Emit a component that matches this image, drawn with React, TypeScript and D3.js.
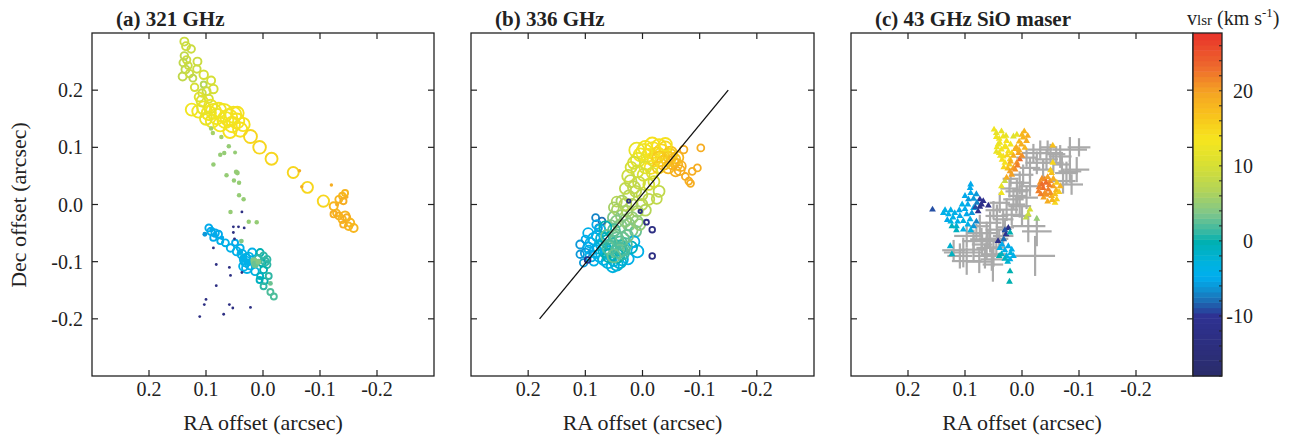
import React from 'react';
import * as d3 from 'd3';

// [RA offset, Dec offset, vlsr, flux]
const ringsA: number[][] = [
  [0.138, 0.285, 9, 16], [0.135, 0.277, 9, 16], [0.126, 0.272, 9, 14], [0.138, 0.26, 8, 14],
  [0.134, 0.253, 9, 14], [0.14, 0.248, 8, 14], [0.115, 0.25, 9, 16], [0.136, 0.236, 8, 16],
  [0.141, 0.224, 8, 16], [0.129, 0.229, 9, 14], [0.116, 0.237, 9, 14], [0.123, 0.221, 8, 12],
  [0.104, 0.227, 10, 18], [0.104, 0.21, 7, 9], [0.091, 0.217, 10, 16], [0.099, 0.198, 9, 16],
  [0.087, 0.202, 10, 18], [0.107, 0.195, 9, 14], [0.131, 0.243, 9, 12], [0.12, 0.205, 10, 14],
  [0.112, 0.188, 11, 20], [0.095, 0.185, 10, 16],
  [0.125, 0.166, 13, 36], [0.113, 0.163, 13, 40], [0.107, 0.181, 11, 30], [0.104, 0.169, 12, 42],
  [0.095, 0.16, 13, 50], [0.087, 0.163, 13, 56], [0.081, 0.154, 13, 60], [0.069, 0.16, 13, 81],
  [0.06, 0.152, 14, 70], [0.052, 0.157, 13, 64], [0.054, 0.14, 14, 60], [0.046, 0.146, 14, 56],
  [0.04, 0.131, 14, 50], [0.089, 0.146, 13, 42], [0.075, 0.14, 13, 48], [0.066, 0.148, 13, 64],
  [0.1, 0.15, 12, 36], [0.045, 0.16, 14, 40], [0.058, 0.128, 14, 44], [0.078, 0.165, 13, 56],
  [0.092, 0.172, 12, 42], [0.035, 0.14, 14, 44],
  [0.022, 0.119, 15, 42], [0.006, 0.1, 15, 40], [-0.015, 0.08, 15, 36], [-0.053, 0.056, 15, 30],
  [-0.078, 0.03, 15, 30], [-0.106, 0.006, 15, 32],
  [-0.139, 0.015, 18, 10], [-0.144, 0.02, 18, 9], [-0.133, 0.009, 18, 12], [-0.141, 0.006, 19, 10],
  [-0.124, -0.003, 18, 16], [-0.129, -0.015, 18, 12], [-0.144, -0.02, 18, 20], [-0.124, -0.017, 19, 10],
  [-0.133, -0.02, 19, 12], [-0.139, -0.026, 18, 14], [-0.147, -0.023, 19, 12], [-0.153, -0.032, 18, 16],
  [-0.159, -0.041, 18, 16], [-0.15, -0.038, 18, 14], [-0.141, -0.035, 19, 10],
  [0.095, -0.041, -5, 12], [0.091, -0.047, -5, 14], [0.084, -0.05, -5, 14], [0.078, -0.052, -5, 12],
  [0.087, -0.058, -5, 10], [0.075, -0.064, -4, 9], [0.066, -0.067, -4, 12], [0.057, -0.076, -4, 14],
  [0.049, -0.067, -5, 9], [0.046, -0.082, -4, 16], [0.04, -0.076, -4, 12], [0.037, -0.087, -4, 20],
  [0.031, -0.096, -4, 30], [0.022, -0.105, -4, 25], [0.028, -0.111, -4, 25], [0.019, -0.084, -4, 16],
  [0.014, -0.117, -3, 14], [0.034, -0.108, -4, 20], [0.025, -0.092, -3, 20], [0.03, -0.1, -4, 25],
  [0.005, -0.084, 0, 12], [-0.001, -0.09, 1, 12], [-0.007, -0.096, 1, 12], [0.002, -0.102, 0, 12],
  [-0.007, -0.105, 1, 12], [-0.001, -0.114, 0, 12], [0.005, -0.125, -1, 9], [0.006, -0.132, -1, 9],
  [-0.003, -0.134, 0, 9], [-0.01, -0.125, 1, 9], [-0.001, -0.143, 1, 9], [-0.013, -0.153, 2, 9],
  [-0.019, -0.161, 2, 9], [0.008, -0.095, 1, 14], [-0.004, -0.1, 1, 14],
];

const dotsA: number[][] = [
  [0.091, 0.133, 6, 5], [0.088, 0.125, 6, 5], [0.073, 0.118, 6, 5], [0.06, 0.102, 5, 5],
  [0.075, 0.087, 5, 5], [0.068, 0.09, 5, 5], [0.049, 0.091, 5, 4], [0.087, 0.07, 5, 5],
  [0.064, 0.051, 5, 5], [0.047, 0.057, 5, 6], [0.045, 0.055, 5, 6], [0.051, 0.042, 5, 5],
  [0.042, 0.038, 5, 5], [0.042, 0.016, 5, 5], [0.034, 0.009, 5, 5], [0.057, -0.013, 5, 5],
  [0.025, -0.03, 5, 5], [0.011, -0.031, 5, 5], [0.038, -0.064, 4, 6], [0.016, -0.099, 4, 14],
  [0.014, -0.105, 3, 14], [0.008, -0.1, 4, 9], [-0.013, -0.138, 3, 6],
  [-0.064, 0.059, 19, 3], [-0.12, 0.034, 19, 3], [-0.068, 0.031, 19, 3], [-0.13, 0.0, 19, 4],
  [-0.147, 0.013, 19, 3],
  [0.102, -0.052, -6, 6], [0.084, -0.052, -5, 6], [0.072, -0.058, -5, 5], [0.09, -0.044, -5, 6],
  [0.04, -0.083, -4, 9], [0.028, -0.1, -4, 12], [0.034, -0.094, -4, 12],
  [0.037, -0.013, -13, 2], [0.052, -0.039, -13, 2], [0.043, -0.039, -13, 2], [0.033, -0.041, -13, 2],
  [0.052, -0.049, -13, 2], [0.05, -0.06, -13, 2], [0.087, -0.076, -13, 2], [0.082, -0.105, -13, 2],
  [0.059, -0.11, -13, 2], [0.057, -0.124, -13, 2], [0.037, -0.119, -13, 2], [0.082, -0.142, -13, 2],
  [0.1, -0.166, -13, 2], [0.103, -0.175, -13, 2], [0.059, -0.175, -13, 2], [0.053, -0.181, -13, 2],
  [0.022, -0.18, -13, 2], [0.111, -0.196, -13, 2], [0.069, -0.192, -13, 2],
];

const ringsB: number[][] = [
  [-0.005, 0.099, 13, 49], [-0.017, 0.105, 14, 49], [-0.029, 0.102, 14, 49], [-0.04, 0.099, 15, 42],
  [0.004, 0.087, 13, 42], [-0.011, 0.084, 14, 56], [-0.026, 0.087, 15, 56], [-0.049, 0.09, 17, 42],
  [-0.061, 0.082, 18, 36], [-0.052, 0.073, 18, 42], [-0.037, 0.073, 17, 49], [-0.067, 0.067, 19, 25],
  [-0.058, 0.058, 19, 25], [-0.072, 0.096, 19, 14], [-0.102, 0.099, 19, 12], [-0.096, 0.064, 19, 12],
  [-0.087, 0.058, 19, 12], [-0.075, 0.049, 19, 12], [-0.081, 0.041, 19, 12], [-0.084, 0.037, 19, 12],
  [-0.008, 0.073, 13, 49], [-0.02, 0.078, 15, 42], [-0.045, 0.08, 16, 49],
  [0.01, 0.095, 12, 56], [-0.003, 0.092, 13, 64], [-0.018, 0.095, 14, 64], [-0.033, 0.092, 15, 56],
  [-0.048, 0.085, 16, 49], [-0.055, 0.078, 17, 42], [-0.03, 0.08, 16, 56], [0.008, 0.078, 12, 49],
  [-0.015, 0.065, 14, 42], [-0.045, 0.065, 18, 36], [-0.06, 0.07, 18, 30], [-0.065, 0.06, 19, 25],
  [-0.04, 0.105, 14, 42], [-0.028, 0.065, 16, 36],
  [0.015, 0.073, 10, 36], [0.009, 0.058, 10, 36], [-0.002, 0.052, 10, 36], [-0.017, 0.055, 11, 30],
  [0.021, 0.041, 8, 36], [0.006, 0.038, 9, 36], [-0.011, 0.035, 10, 30], [-0.029, 0.023, 8, 30],
  [0.012, 0.023, 8, 30], [0.001, 0.017, 8, 30], [0.024, 0.015, 7, 30], [0.036, 0.006, 6, 30],
  [0.018, 0.0, 7, 30], [0.001, 0.0, 7, 30], [-0.011, 0.009, 8, 30], [0.044, -0.009, 6, 30],
  [0.027, -0.012, 6, 30], [0.009, -0.012, 6, 30], [0.036, -0.02, 5, 36], [0.05, -0.023, 4, 36],
  [0.018, -0.023, 5, 30], [0.056, -0.038, 4, 36], [0.039, -0.038, 4, 42], [0.024, -0.035, 4, 36],
  [0.012, -0.047, 3, 30],
  [0.02, 0.065, 10, 30], [0.025, 0.05, 9, 36], [-0.005, 0.065, 11, 36], [0.015, 0.03, 8, 36],
  [-0.02, 0.04, 10, 30], [0.03, 0.028, 8, 30], [-0.025, 0.01, 8, 25], [0.03, 0.0, 7, 36],
  [0.045, 0.005, 7, 25], [0.01, -0.03, 5, 36], [0.03, -0.028, 5, 36], [0.045, -0.03, 4, 36],
  [0.02, -0.045, 4, 42], [0.005, -0.035, 5, 30], [-0.005, -0.01, 7, 30], [0.05, -0.005, 6, 25],
  [0.1, -0.061, -5, 14], [0.109, -0.07, -6, 16], [0.094, -0.079, -5, 16], [0.109, -0.087, -6, 14],
  [0.103, -0.102, -6, 14], [0.082, -0.023, -7, 12], [0.071, -0.029, -8, 12], [0.077, -0.041, -6, 12],
  [0.085, -0.099, -4, 20], [0.074, -0.044, -4, 25], [0.079, -0.055, -4, 30], [0.091, -0.067, -4, 25],
  [0.071, -0.07, -3, 36], [0.082, -0.082, -4, 36], [0.062, -0.084, -3, 42], [0.05, -0.096, -3, 42],
  [0.036, -0.096, -3, 36], [0.068, -0.096, -3, 30], [0.009, -0.082, -4, 36], [0.045, -0.105, -2, 36],
  [0.095, -0.05, -4, 25], [0.085, -0.06, -4, 36], [0.075, -0.075, -3, 42], [0.075, -0.09, -4, 36],
  [0.09, -0.09, -4, 30], [0.095, -0.075, -5, 25], [0.08, -0.035, -5, 20], [0.1, -0.085, -6, 20],
  [0.025, -0.095, -4, 30], [0.052, -0.108, -3, 36], [0.06, -0.1, -3, 42], [0.04, -0.1, -2, 42],
  [0.015, -0.065, -4, 30], [0.02, -0.075, -1, 36],
  [0.07, -0.06, -2, 42], [0.06, -0.065, 0, 49], [0.065, -0.08, -1, 49], [0.055, -0.08, 1, 49],
  [0.045, -0.09, 0, 49], [0.035, -0.085, 1, 42], [0.03, -0.07, 2, 42], [0.05, -0.045, 2, 36],
  [0.065, -0.04, 0, 36], [0.062, -0.055, 3, 36], [0.047, -0.055, 3, 42], [0.053, -0.07, 1, 42],
  [0.039, -0.067, 2, 42], [0.027, -0.055, 3, 36], [0.044, -0.082, 3, 49], [0.033, -0.079, 2, 36],
  [0.058, -0.09, 0, 42], [0.04, -0.075, 1, 49], [0.045, -0.06, 3, 42], [0.035, -0.06, 3, 42],
  [0.058, -0.075, 2, 49], [0.04, -0.08, 2, 56], [0.05, -0.09, 3, 42],
  [-0.017, -0.044, -13, 8], [-0.007, -0.031, -13, 6], [-0.017, -0.09, -13, 8], [0.096, -0.097, -12, 8],
  [0.024, 0.006, -13, 3], [0.004, -0.012, -13, 3],
];

// fitted axis in panel (b), [RA, Dec]
const lineB: [number, number][] = [[0.18, -0.2], [-0.15, 0.2]];

// SiO maser spots, [RA, Dec, vlsr]
const maserC: number[][] = [
  [0.091, 0.029, -5], [0.09, 0.02, -5], [0.094, 0.009, -6], [0.074, 0.009, -10], [0.079, 0.003, -7],
  [0.071, 0.0, -12], [0.085, -0.006, -4], [0.059, -0.002, -12], [0.157, -0.009, -9], [0.138, -0.015, -4],
  [0.129, -0.017, -4], [0.121, -0.023, -4], [0.109, -0.02, -5], [0.097, -0.017, -5], [0.088, -0.015, -6],
  [0.077, -0.012, -11], [0.103, -0.029, -3], [0.091, -0.026, -4], [0.123, -0.038, -1], [0.115, -0.038, -2],
  [0.103, -0.044, -4], [0.085, -0.038, -6], [0.126, -0.073, -2], [0.123, -0.087, -1], [0.024, -0.041, -12],
  [0.028, -0.052, -11], [0.021, -0.049, 0], [0.032, -0.061, -8], [0.024, -0.073, -5], [0.018, -0.079, -4],
  [0.039, -0.076, -4], [0.036, -0.087, -1], [0.027, -0.09, -3], [0.021, -0.096, -4], [0.042, -0.064, -12],
  [0.021, -0.117, 0], [0.022, -0.135, 0], [0.08, 0.018, -6], [0.068, 0.006, -11], [0.074, -0.004, -12],
  [0.113, -0.03, -4], [0.131, -0.027, -5],
  [0.135, -0.01, -4], [0.125, -0.01, -4], [0.118, -0.015, -4], [0.11, -0.01, -5], [0.1, -0.008, -5],
  [0.095, 0.0, -5], [0.105, 0.0, -4], [0.125, -0.03, -3], [0.115, -0.045, -1], [0.095, -0.035, -4],
  [0.09, -0.045, -3], [0.08, -0.03, -7], [0.082, -0.005, -9], [0.09, 0.035, -5], [0.085, 0.01, -6],
  [0.1, 0.015, -5], [0.03, -0.045, -9], [0.035, -0.07, -5], [0.03, -0.08, -4], [0.02, -0.085, -3],
  [0.015, -0.09, -4], [0.025, -0.1, -2], [0.03, -0.095, -1], [0.04, -0.09, 0],
  [0.03, 0.041, 9], [0.036, 0.032, 12], [0.036, 0.02, 13], [-0.014, -0.009, 10], [-0.011, -0.017, 9],
  [-0.007, -0.023, 8], [-0.026, -0.025, 5],
  [0.049, 0.131, 13], [0.036, 0.128, 12], [0.033, 0.119, 13], [0.039, 0.108, 13], [0.027, 0.111, 14],
  [0.036, 0.096, 13], [0.024, 0.093, 14], [0.033, 0.084, 14], [0.021, 0.079, 15], [0.03, 0.073, 14],
  [0.015, 0.119, 11], [0.009, 0.122, 12], [0.042, 0.105, 12], [0.03, 0.102, 13], [0.04, 0.09, 14],
  [0.026, 0.086, 15], [0.045, 0.118, 13],
  [0.045, 0.125, 12], [0.04, 0.115, 13], [0.028, 0.12, 12], [0.02, 0.105, 13], [0.044, 0.1, 13],
  [0.035, 0.078, 14], [0.028, 0.1, 14], [0.018, 0.09, 15], [0.038, 0.085, 13], [0.045, 0.092, 12],
  [0.022, 0.07, 16], [0.032, 0.065, 15], [0.025, 0.063, 17],
  [-0.004, 0.128, 18], [-0.002, 0.117, 18], [-0.008, 0.111, 19], [0.001, 0.105, 19], [-0.005, 0.099, 18],
  [0.006, 0.09, 20], [0.004, 0.079, 23], [0.009, 0.073, 21], [0.015, 0.064, 20], [0.021, 0.058, 20],
  [0.027, 0.047, 19], [0.012, 0.061, 21], [-0.054, 0.103, 17], [0.015, 0.085, 19], [0.012, 0.097, 18],
  [0.0, 0.122, 18], [-0.01, 0.12, 19], [0.005, 0.11, 18], [0.01, 0.1, 19], [0.0, 0.085, 21],
  [0.008, 0.068, 22], [0.018, 0.052, 20], [0.02, 0.075, 19], [0.005, 0.095, 19],
  [-0.032, 0.038, 21], [-0.04, 0.044, 22], [-0.049, 0.041, 21], [-0.037, 0.029, 23], [-0.046, 0.026, 22],
  [-0.055, 0.032, 20], [-0.061, 0.038, 16], [-0.043, 0.017, 21], [-0.052, 0.015, 19], [-0.061, 0.009, 16],
  [-0.029, 0.023, 22], [-0.052, 0.055, 17], [-0.054, 0.073, 15], [-0.067, 0.032, 18], [-0.058, 0.003, 15],
  [-0.035, 0.035, 23], [-0.048, 0.034, 22], [-0.04, 0.02, 21],
  [-0.03, 0.03, 22], [-0.035, 0.045, 21], [-0.045, 0.048, 20], [-0.055, 0.045, 19], [-0.06, 0.025, 18],
  [-0.05, 0.02, 21], [-0.038, 0.012, 20], [-0.045, 0.005, 19], [-0.053, 0.008, 18], [-0.033, 0.018, 22],
  [-0.058, 0.018, 17], [-0.042, 0.038, 23], [-0.065, 0.022, 16], [-0.05, 0.06, 16],
];

// grey positions with errors, [RA, Dec, errRA, errDec]
const crossC: number[][] = [
  [-0.084, 0.096, 0.03, 0.022], [-0.1, 0.1, 0.02, 0.016], [-0.067, 0.084, 0.02, 0.02],
  [-0.096, 0.061, 0.022, 0.022], [-0.078, 0.055, 0.02, 0.02], [-0.072, 0.041, 0.022, 0.022],
  [-0.087, 0.035, 0.02, 0.018], [-0.084, 0.058, 0.02, 0.02], [-0.032, 0.096, 0.022, 0.016],
  [-0.02, 0.09, 0.02, 0.016], [-0.008, 0.082, 0.018, 0.016], [-0.043, 0.079, 0.02, 0.018],
  [-0.026, 0.073, 0.02, 0.02], [-0.014, 0.064, 0.018, 0.018], [-0.05, 0.09, 0.022, 0.016],
  [-0.037, 0.061, 0.018, 0.018], [-0.055, 0.073, 0.018, 0.018], [-0.06, 0.088, 0.016, 0.014],
  [-0.045, 0.1, 0.014, 0.012], [-0.07, 0.07, 0.016, 0.016],
  [-0.002, 0.052, 0.018, 0.018], [0.004, 0.038, 0.018, 0.02], [0.009, 0.023, 0.02, 0.02],
  [-0.014, 0.032, 0.018, 0.018], [-0.008, 0.012, 0.02, 0.02], [0.015, 0.009, 0.018, 0.018],
  [0.004, -0.003, 0.02, 0.02], [0.027, -0.009, 0.02, 0.02], [0.039, 0.003, 0.018, 0.018],
  [0.02, 0.045, 0.014, 0.014], [0.05, -0.01, 0.014, 0.016], [-0.011, -0.038, 0.03, 0.028],
  [-0.026, -0.047, 0.026, 0.026], [0.01, 0.0, 0.016, 0.016], [0.0, 0.025, 0.016, 0.016],
  [0.018, -0.018, 0.018, 0.018], [0.008, 0.015, 0.016, 0.018], [0.022, 0.028, 0.016, 0.016],
  [0.0, -0.02, 0.016, 0.016], [0.03, -0.04, 0.016, 0.016],
  [-0.023, -0.09, 0.035, 0.035], [0.044, -0.02, 0.02, 0.02], [0.033, -0.026, 0.018, 0.018],
  [0.056, -0.032, 0.02, 0.02], [0.044, -0.044, 0.02, 0.02], [0.062, -0.05, 0.02, 0.02],
  [0.074, -0.038, 0.018, 0.02], [0.071, -0.061, 0.02, 0.02], [0.056, -0.064, 0.02, 0.02],
  [0.062, -0.076, 0.018, 0.02], [0.085, -0.064, 0.02, 0.02], [0.097, -0.055, 0.022, 0.02],
  [0.05, -0.087, 0.022, 0.022], [0.103, -0.084, 0.034, 0.026], [0.109, -0.09, 0.022, 0.022],
  [0.053, -0.096, 0.02, 0.02], [0.085, -0.079, 0.022, 0.022], [0.033, -0.055, 0.018, 0.018],
  [0.075, -0.1, 0.022, 0.02], [0.065, -0.09, 0.02, 0.022], [0.097, -0.099, 0.026, 0.024],
  [0.051, -0.105, 0.018, 0.03], [0.07, -0.07, 0.018, 0.018], [0.045, -0.075, 0.016, 0.016],
  [0.06, -0.06, 0.016, 0.016], [0.04, -0.06, 0.016, 0.016], [0.08, -0.05, 0.016, 0.016],
  [0.12, -0.08, 0.02, 0.018],
];

const axisTicks = [0.2, 0.1, 0, -0.1, -0.2];
const cbarLabels = [20, 10, 0, -10];
const cbarDomain = [-18, 27.7];

const colorStops = [-18, -10, -8, -6.5, -4.8, -3, 0, 1, 3.7, 6.8, 10, 13.5, 17, 19.7, 23.2, 27.7];
const colorRange = ['#2a2c6a', '#2e3192', '#1c6db5', '#0f8fd0', '#00aeef', '#00b2e0', '#00b0b0', '#2fb7a5',
  '#7fc68a', '#b3d458', '#d6df35', '#f6e61e', '#f8c01c', '#f5a623', '#ee6a2d', '#e8312a'];

const W = 1312;
const H = 439;
const top = 33;
const bottom = 376;
const panelX = [[92, 434], [471, 814], [851, 1193]];
const titles = ['(a) 321 GHz', '(b) 336 GHz', '(c) 43 GHz SiO maser'];
const serif = '"Liberation Serif", "Times New Roman", serif';

const color = d3.scaleLinear<string>().domain(colorStops).range(colorRange).interpolate(d3.interpolateRgb).clamp(true);
const rScale = d3.scaleSqrt().domain([0, 100]).range([0, 10]);
const y = d3.scaleLinear().domain([-0.3, 0.3]).range([bottom, top]);
const fmt = (v: number) => v.toFixed(1);

function Frame({ i, x }: { i: number; x: d3.ScaleLinear<number, number> }) {
  const [x0, x1] = panelX[i];
  const tl = 6;
  return (
    <g>
      <rect x={x0} y={top} width={x1 - x0} height={bottom - top} fill="none" stroke="#222" strokeWidth={1.3} />
      {axisTicks.map(t => (
        <g key={'x' + t}>
          <line x1={x(t)} x2={x(t)} y1={bottom} y2={bottom - tl} stroke="#222" strokeWidth={1.2} />
          <line x1={x(t)} x2={x(t)} y1={top} y2={top + tl} stroke="#222" strokeWidth={1.2} />
          <text x={x(t)} y={396} textAnchor="middle" fontSize={20} fill="#222">{fmt(t)}</text>
        </g>
      ))}
      {axisTicks.map(t => (
        <g key={'y' + t}>
          <line x1={x0} x2={x0 + tl} y1={y(t)} y2={y(t)} stroke="#222" strokeWidth={1.2} />
          <line x1={x1} x2={x1 - tl} y1={y(t)} y2={y(t)} stroke="#222" strokeWidth={1.2} />
          {i === 0 && <text x={x0 - 9} y={y(t)} dy="0.35em" textAnchor="end" fontSize={20} fill="#222">{fmt(t)}</text>}
        </g>
      ))}
      <text x={(x0 + x1) / 2} y={430} textAnchor="middle" fontSize={22} fill="#222">RA offset (arcsec)</text>
      <text x={x0 + 24} y={26} fontSize={21} fontWeight="bold" fill="#222">{titles[i]}</text>
    </g>
  );
}

export default function App() {
  const xs = panelX.map(([a, b]) => d3.scaleLinear().domain([0.3, -0.3]).range([a, b]));
  const [xa, xb, xc] = xs;
  const line = d3.line<[number, number]>().x(d => xb(d[0])).y(d => y(d[1]));
  const tri = d3.symbol().type(d3.symbolTriangle).size(20)() as string;

  const cbX0 = 1193;
  const cbX1 = 1222;
  const cy = d3.scaleLinear().domain(cbarDomain).range([bottom, top]);
  const steps = d3.range(cbarDomain[0], cbarDomain[1], 0.7);
  const cbTicks = d3.range(-18, 27, 2);

  return (
    <svg width={W} height={H} style={{ position: 'absolute', left: 0, top: 0, background: '#fff' }} fontFamily={serif}>
      <rect width={W} height={H} fill="#fff" />
      <text transform={`translate(26,205) rotate(-90)`} textAnchor="middle" fontSize={22} fill="#222">Dec offset (arcsec)</text>

      {/* panel a */}
      <g>
        {ringsA.map((d, k) => (
          <circle key={k} cx={xa(d[0])} cy={y(d[1])} r={rScale(d[3])} fill="none" stroke={color(d[2])} strokeWidth={1.9} />
        ))}
        {dotsA.map((d, k) => (
          <circle key={k} cx={xa(d[0])} cy={y(d[1])} r={rScale(d[3])} fill={color(d[2])} />
        ))}
      </g>

      {/* panel b */}
      <g>
        {ringsB.map((d, k) => (
          <circle key={k} cx={xb(d[0])} cy={y(d[1])} r={rScale(d[3])} fill="none" stroke={color(d[2])} strokeWidth={1.8} />
        ))}
        <path d={line(lineB) as string} stroke="#111" strokeWidth={1.3} fill="none" />
      </g>

      {/* panel c */}
      <g>
        {crossC.map((d, k) => (
          <g key={k} stroke="#aaaaaa" strokeWidth={2.2}>
            <line x1={xc(d[0] - d[2])} x2={xc(d[0] + d[2])} y1={y(d[1])} y2={y(d[1])} />
            <line x1={xc(d[0])} x2={xc(d[0])} y1={y(d[1] - d[3])} y2={y(d[1] + d[3])} />
          </g>
        ))}
        {maserC.map((d, k) => (
          <path key={k} d={tri} transform={`translate(${xc(d[0])},${y(d[1])})`} fill={color(d[2])} />
        ))}
      </g>

      {xs.map((x, i) => <Frame key={i} i={i} x={x} />)}

      {/* colour bar */}
      <g>
        {steps.map((v, k) => (
          <rect key={k} x={cbX0} width={cbX1 - cbX0} y={cy(Math.min(v + 0.7, cbarDomain[1]))}
            height={cy(v) - cy(Math.min(v + 0.7, cbarDomain[1])) + 0.5} fill={color(v + 0.35)} />
        ))}
        <rect x={cbX0} y={top} width={cbX1 - cbX0} height={bottom - top} fill="none" stroke="#222" strokeWidth={1.3} />
        {cbTicks.map(t => (
          <line key={t} x1={cbX1} x2={cbX1 - 3} y1={cy(t)} y2={cy(t)} stroke="#222" strokeWidth={1} />
        ))}
        {cbarLabels.map(t => (
          <text key={t} x={1253} y={cy(t)} dy="0.35em" textAnchor="end" fontSize={20} fill="#222">{t}</text>
        ))}
        <text x={1187} y={25} fontSize={20} fill="#222">
          v<tspan fontSize={15}>lsr</tspan> (km s<tspan fontSize={13} dy={-8}>-1</tspan><tspan dy={8}>)</tspan>
        </text>
      </g>
    </svg>
  );
}
